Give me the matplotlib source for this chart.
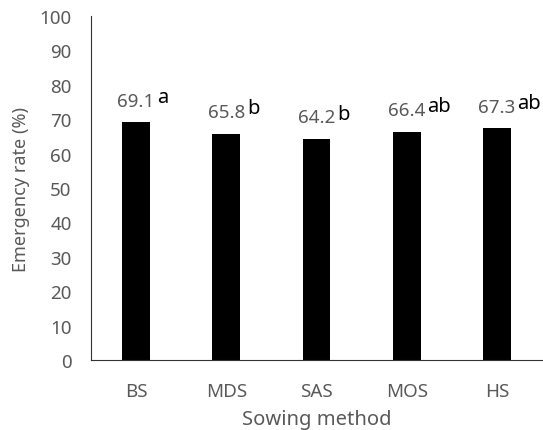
import numpy as np
import matplotlib.pyplot as plt

# data
methods = ['BS', 'MDS', 'SAS', 'MOS', 'HS']
rate = [69.1, 65.8, 64.2, 66.4, 67.3]
letters = ['a', 'b', 'b', 'ab', 'ab']

plt.rcParams['font.family'] = ['Noto Sans', 'DejaVu Sans']
gray = '#595959'

fig = plt.figure(figsize=(5.43, 4.31), dpi=100)
ax = fig.add_axes([91/543, 1-361/431, 451/543, 344/431])

x = np.arange(len(methods))
ax.bar(x, rate, width=0.31, color='black')

for xi, v, l in zip(x, rate, letters):
    t = ax.annotate(f'{v:.1f}', (xi, v), xytext=(0, 12), textcoords='offset points',
                    ha='center', va='baseline', fontsize=13.5, color=gray)
    ax.annotate(l, xy=(1, 0), xycoords=t, xytext=(1.5, 5.5), textcoords='offset points',
                ha='left', va='baseline', fontsize=14.5, color='black')

ax.set_xlim(-0.5, 4.5)
ax.set_ylim(0, 100)
ax.set_yticks(np.arange(0, 101, 10))
ax.set_xticks(x)
ax.set_xticklabels(methods)
ax.tick_params(axis='both', length=0, labelsize=13.5, labelcolor=gray)
ax.tick_params(axis='y', pad=14)
ax.tick_params(axis='x', pad=16)
for s in ['top', 'right']:
    ax.spines[s].set_visible(False)
ax.spines['left'].set_color('#333333')
ax.spines['bottom'].set_color('#333333')
ax.set_xlabel('Sowing method', fontsize=14.5, color=gray, labelpad=6)
ax.set_ylabel('Emergency rate (%)', fontsize=13, color=gray, labelpad=7)

fig.savefig('out.png', dpi=100)
